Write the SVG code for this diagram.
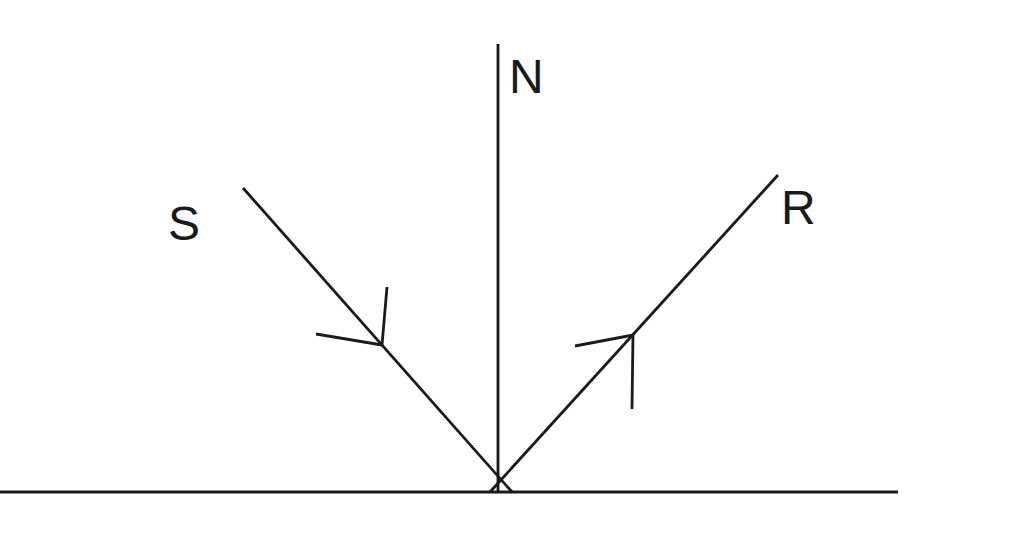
<svg xmlns="http://www.w3.org/2000/svg" width="1024" height="534" viewBox="0 0 1024 534">
<style>
.ln{stroke:#1a1a1a;stroke-width:2.8;fill:none;stroke-linecap:butt}
.lb{font-family:"Liberation Sans",Arial,sans-serif;font-size:48px;fill:#1a1a1a}
</style>
<rect width="1024" height="534" fill="#fff"/>
<g id="connectors">
<line class="ln" x1="0" y1="492" x2="898" y2="492"/>
<line class="ln" x1="498" y1="44" x2="498" y2="492"/>
<line class="ln" x1="243" y1="188" x2="512" y2="492"/>
<line class="ln" x1="778" y1="175" x2="490" y2="492"/>
<polyline class="ln" points="316,334 382,345 387,287"/>
<polyline class="ln" points="575,346 633,335 632,409"/>
</g>
<g id="N"><text class="lb" x="509" y="93">N</text></g>
<g id="S"><text class="lb" x="168" y="240">S</text></g>
<g id="R"><text class="lb" x="781" y="224">R</text></g>
</svg>
